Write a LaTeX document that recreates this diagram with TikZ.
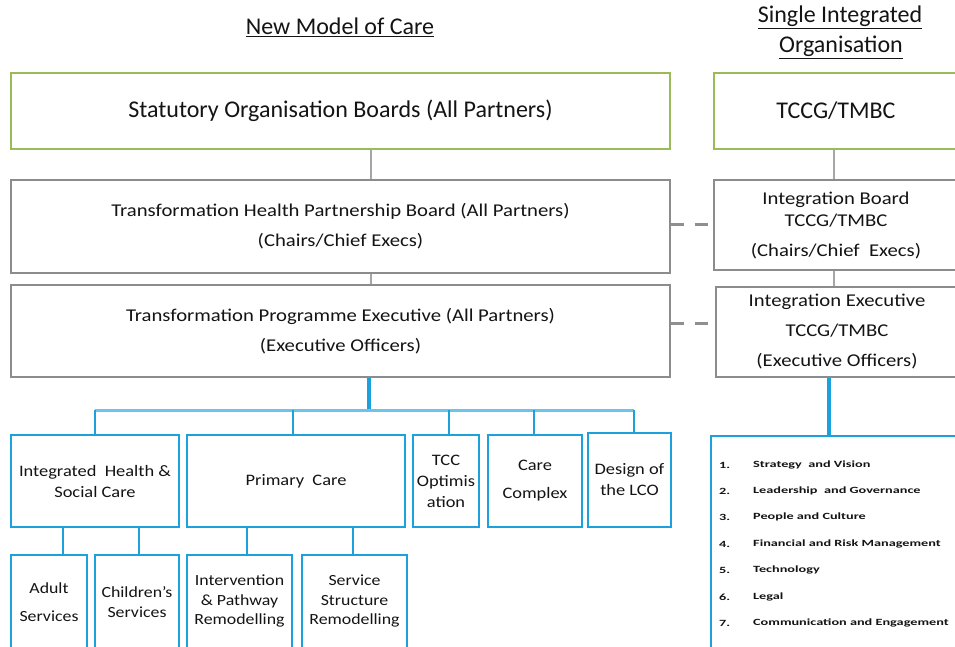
\documentclass[tikz,border=0pt]{standalone}
\usepackage{fontspec}
\setmainfont{Carlito}
\newfontfamily\fA{Carlito}
\newfontfamily\fB[FakeStretch=1.15]{Carlito}
\newfontfamily\fL[FakeStretch=1.5]{Carlito}
\definecolor{grn}{HTML}{9BBB59}
\definecolor{gry}{HTML}{8C8C8C}
\definecolor{gln}{HTML}{A6A6A6}
\definecolor{dsh}{HTML}{8F8F8F}
\definecolor{blu}{HTML}{1BA1DC}
\definecolor{lbl}{HTML}{6CC4EC}
\definecolor{txt}{HTML}{141414}
\tikzset{
  box/.style={rectangle,line width=2pt,inner sep=0pt,align=center,text=txt},
  gbox/.style={box,draw=grn,font={\fA\fontsize{24}{30}\selectfont}},
  kbox/.style={box,draw=gry,font={\fB\fontsize{18}{30}\selectfont}},
  bbox/.style={box,draw=blu,font={\fB\fontsize{16}{21}\selectfont}},
  rtext/.style={inner sep=0pt,align=center,text=txt,font={\fB\fontsize{15.5}{19.5}\selectfont}},
  ttl/.style={inner sep=0pt,text=txt,font={\fA\fontsize{24}{30}\selectfont}},
  litem/.style={inner sep=0pt,anchor=west,text=txt,font={\fL\bfseries\fontsize{9.5}{11}\selectfont}},
  gline/.style={draw=gln,line width=2pt},
  dline/.style={draw=dsh,line width=3pt,dash pattern=on 13pt off 11pt},
  bthick/.style={draw=blu,line width=4pt},
  bline/.style={draw=blu,line width=1.6pt},
  busline/.style={draw=lbl,line width=3pt},
}
\begin{document}
\begin{tikzpicture}[x=1pt,y=-1pt]
\useasboundingbox (0,0) rectangle (955,646);
\clip (0,0) rectangle (955,646);
\fill[white] (0,0) rectangle (955,646);

% titles
\node[ttl] (t1) at (340,27) {\underline{New Model of Care}};
\node[ttl] (t2) at (840,17) {\underline{Single Integrated}};
\node[ttl] (t3) at (841,47) {\underline{Organisation}};

% top level
\node[gbox,minimum width=659,minimum height=76] (b1) at (340.5,111) {Statutory Organisation Boards (All Partners)};
\node[gbox,minimum width=244,minimum height=76] (r1) at (836,111) {TCCG/TMBC};

% second level
\node[kbox,minimum width=659,minimum height=93] (b2) at (340.5,226.5) {Transformation Health Partnership Board (All Partners)\\(Chairs/Chief Execs)};
\node[kbox,minimum width=244,minimum height=90] (r2) at (836,225) {Integration Board\\[-8pt]TCCG/TMBC\\(Chairs/Chief\ \ Execs)};

% third level
\node[kbox,minimum width=659,minimum height=92] (b3) at (340.5,331) {Transformation Programme Executive (All Partners)\\(Executive Officers)};
\node[kbox,minimum width=242,minimum height=90] (r3) at (837,332) {Integration Executive\\TCCG/TMBC\\(Executive Officers)};

% workstreams
\node[bbox,minimum width=168,minimum height=92] (c1) at (95,481) {Integrated\ \ Health \&\\Social Care};
\node[bbox,minimum width=218,minimum height=92] (c2) at (296,481) {Primary\ \ Care};
\node[bbox,minimum width=66,minimum height=92] (c3) at (446,481) {TCC\\Optimis\\ation};
\node[bbox,minimum width=94,minimum height=92,font={\fB\fontsize{16}{28}\selectfont}] (c4) at (535,481) {Care\\Complex};
\node[bbox,minimum width=83,minimum height=94] (c5) at (629.5,480) {Design of\\the LCO};

% sub workstreams
\node[box,draw=blu,minimum width=76,minimum height=145] (d1) at (49,627.5) {};
\node[box,draw=blu,minimum width=84,minimum height=145] (d2) at (137,627.5) {};
\node[box,draw=blu,minimum width=105,minimum height=145] (d3) at (239.5,627.5) {};
\node[box,draw=blu,minimum width=105,minimum height=145] (d4) at (354.5,627.5) {};
\node[rtext,font={\fB\fontsize{15.5}{28}\selectfont}] (e1) at (49,602) {Adult\\Services};
\node[rtext,font={\fB\fontsize{15.5}{20}\selectfont}] (e2) at (137,602) {Children’s\\Services};
\node[rtext] (e3) at (239.5,601) {Intervention\\\& Pathway\\Remodelling};
\node[rtext] (e4) at (354.5,601) {Service\\Structure\\Remodelling};

% list box
\node[box,draw=blu,minimum width=269,minimum height=264] (lst) at (845.5,568) {};
\foreach \n/\t/\y in {1/Strategy\ \ and Vision/465,2/Leadership\ \ and Governance/491,3/People and Culture/517,4/Financial and Risk Management/544,5/Technology/570,6/Legal/597,7/Communication and Engagement/623}{
  \node[litem] (ln\n) at (719,\y) {\n.};
  \node[litem] (lt\n) at (753,\y) {\t};
}

% coordinates
\coordinate (gx) at (371,0);
\coordinate (rgx) at (834,0);
\coordinate (bx) at (369,0);
\coordinate (rbx) at (829,0);
\coordinate (busL) at (95,410);
\coordinate (busR) at (634,410);
\coordinate (x2) at (293,0);
\coordinate (x3) at (449,0);
\coordinate (x4) at (534,0);
\coordinate (x5) at (634,0);
\coordinate (y1) at (63,0);
\coordinate (y2) at (139,0);
\coordinate (y3) at (247,0);
\coordinate (y4) at (353,0);

% grey connectors
\draw[gline] (b1.south -| gx) -- (b2.north -| gx);
\draw[gline] (b2.south -| gx) -- (b3.north -| gx);
\draw[gline] (r1.south -| rgx) -- (r2.north -| rgx);
\draw[gline] (r2.south -| rgx) -- (r3.north -| rgx);

% dashed links
\draw[dline] (b2.east |- 0,224) -- (r2.west |- 0,224);
\draw[dline] (b3.east |- 0,323) -- (r3.west |- 0,323);

% blue tree
\draw[bthick] (b3.south -| bx) -- (bx |- busL);
\draw[busline] (busL) -- (busR);
\draw[bline] (busL) -- (c1.north);
\draw[bline] (busL -| x2) -- (c2.north -| x2);
\draw[bline] (busL -| x3) -- (c3.north -| x3);
\draw[bline] (busL -| x4) -- (c4.north -| x4);
\draw[bline] (busR) -- (c5.north -| x5);
\draw[bline] (c1.south -| y1) -- (d1.north -| y1);
\draw[bline] (c1.south -| y2) -- (d2.north -| y2);
\draw[bline] (c2.south -| y3) -- (d3.north -| y3);
\draw[bline] (c2.south -| y4) -- (d4.north -| y4);
\draw[bthick] (r3.south -| rbx) -- (lst.north -| rbx);
\end{tikzpicture}
\end{document}
